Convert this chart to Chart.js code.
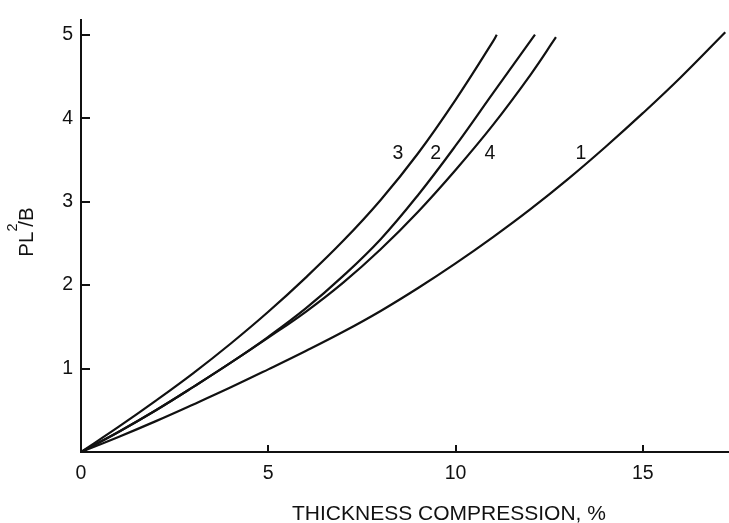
<!DOCTYPE html>
<html>
<head>
<meta charset="utf-8">
<script src="https://cdn.jsdelivr.net/npm/chart.js@4.4.1/dist/chart.umd.min.js"></script>
<style>
  html, body { margin: 0; padding: 0; background: #ffffff; }
  #wrap { width: 729px; height: 523px; }
</style>
</head>
<body>
<div id="wrap"><canvas id="c" width="729" height="523"></canvas></div>
<script>
// Load P·L²/B versus thickness compression (%) for four cases
const curve1X = [0, 1, 2, 3, 4, 5, 6, 7, 8, 9, 10, 11, 12, 13, 14, 15, 16, 17.2];
const curve1Y = [0, 0.18, 0.37, 0.57, 0.775, 0.99, 1.21, 1.44, 1.69, 1.965, 2.26, 2.575, 2.91, 3.27, 3.655, 4.06, 4.485, 5.03];

const curve2X = [0, 1, 2, 3, 4, 5, 6, 7, 8, 9, 10, 11, 12.12];
const curve2Y = [0, 0.24, 0.5, 0.78, 1.07, 1.38, 1.72, 2.11, 2.55, 3.08, 3.67, 4.3, 5.0];

const curve3X = [0, 1, 2, 3, 4, 5, 6, 7, 8, 9, 10, 11, 11.1];
const curve3Y = [0, 0.3, 0.615, 0.945, 1.3, 1.68, 2.09, 2.53, 3.02, 3.58, 4.22, 4.92, 5.0];

const curve4X = [0, 1, 2, 3, 4, 5, 6, 7, 8, 9, 10, 11, 12, 12.68];
const curve4Y = [0, 0.24, 0.5, 0.78, 1.07, 1.37, 1.68, 2.03, 2.43, 2.88, 3.38, 3.92, 4.52, 4.97];

// Curve numbers written beside the lines
const curveTags = ['3', '2', '4', '1'];
const curveTagX = [8.46, 9.47, 10.92, 13.35];
const curveTagY = [3.58, 3.58, 3.58, 3.58];

// Axis ticks
const xTicks = [0, 5, 10, 15];
const yTicks = [1, 2, 3, 4, 5];
const xTickMarks = [5, 10, 15];
const yTickMarks = [1, 2, 3, 4, 5];

const xTitle = 'THICKNESS COMPRESSION, %';

const FONT = '"Liberation Sans", Arial, Helvetica, sans-serif';
const INK = '#111111';

function pairs(xs, ys) {
  return xs.map((x, i) => ({ x: x, y: ys[i] }));
}

function curve(label, xs, ys) {
  return {
    label: label,
    data: pairs(xs, ys),
    showLine: true,
    borderColor: INK,
    borderWidth: 2.2,
    pointRadius: 0,
    pointHoverRadius: 0,
    fill: false,
    tension: 0.4
  };
}

// Draws inward tick marks, curve numbers and the axis titles
const decorations = {
  id: 'decorations',
  afterDraw(chart) {
    const ctx = chart.ctx;
    const xs = chart.scales.x;
    const ys = chart.scales.y;
    const area = chart.chartArea;
    ctx.save();
    ctx.strokeStyle = INK;
    ctx.lineWidth = 2;
    ctx.beginPath();
    xTickMarks.forEach(v => {
      const px = Math.round(xs.getPixelForValue(v));
      ctx.moveTo(px, area.bottom);
      ctx.lineTo(px, area.bottom - 7);
    });
    yTickMarks.forEach(v => {
      const py = Math.round(ys.getPixelForValue(v));
      ctx.moveTo(area.left, py);
      ctx.lineTo(area.left + 9, py);
    });
    ctx.stroke();

    ctx.fillStyle = INK;
    ctx.font = '19.5px ' + FONT;
    ctx.textAlign = 'center';
    ctx.textBaseline = 'middle';
    curveTags.forEach((t, i) => {
      ctx.fillText(t, xs.getPixelForValue(curveTagX[i]), ys.getPixelForValue(curveTagY[i]));
    });

    // x-axis title
    ctx.font = '21px ' + FONT;
    ctx.textAlign = 'left';
    ctx.textBaseline = 'alphabetic';
    ctx.fillText(xTitle, 292, 520);

    // y-axis title: PL²/B, rotated
    ctx.translate(33, 232);
    ctx.rotate(-Math.PI / 2);
    const big = '20.5px ' + FONT;
    const small = '14.5px ' + FONT;
    ctx.font = big;
    const wPL = ctx.measureText('PL').width;
    const wSB = ctx.measureText('/B').width;
    ctx.font = small;
    const w2 = ctx.measureText('2').width;
    const total = wPL + w2 * 0.6 + wSB;
    let x0 = -total / 2;
    ctx.font = big;
    ctx.fillText('PL', x0, 0);
    x0 += wPL;
    ctx.font = small;
    ctx.fillText('2', x0, -16);
    x0 += w2 * 0.6;
    ctx.font = big;
    ctx.fillText('/B', x0, 0);
    ctx.restore();
  }
};

new Chart(document.getElementById('c'), {
  type: 'scatter',
  data: {
    datasets: [
      curve('1', curve1X, curve1Y),
      curve('2', curve2X, curve2Y),
      curve('3', curve3X, curve3Y),
      curve('4', curve4X, curve4Y)
    ]
  },
  options: {
    responsive: false,
    animation: false,
    devicePixelRatio: 1,
    layout: { padding: { top: 13, right: 0, bottom: 0, left: 0 } },
    plugins: {
      legend: { display: false },
      tooltip: { enabled: false },
      title: { display: false }
    },
    scales: {
      x: {
        type: 'linear',
        min: 0,
        max: 17.3,
        afterFit(s) { s.height = 71; },
        afterBuildTicks(s) { s.ticks = xTicks.map(v => ({ value: v })); },
        ticks: {
          color: INK,
          font: { family: FONT, size: 19.5 },
          padding: 10,
          maxRotation: 0,
          autoSkip: false
        },
        grid: { drawOnChartArea: false, drawTicks: false },
        border: { display: true, color: INK, width: 2 }
      },
      y: {
        type: 'linear',
        min: 0,
        max: 5.18,
        afterFit(s) { s.width = 81; },
        afterBuildTicks(s) { s.ticks = yTicks.map(v => ({ value: v })); },
        ticks: {
          color: INK,
          font: { family: FONT, size: 19.5 },
          padding: 8,
          autoSkip: false
        },
        grid: { drawOnChartArea: false, drawTicks: false },
        border: { display: true, color: INK, width: 2 }
      }
    }
  },
  plugins: [decorations]
});
</script>
</body>
</html>
